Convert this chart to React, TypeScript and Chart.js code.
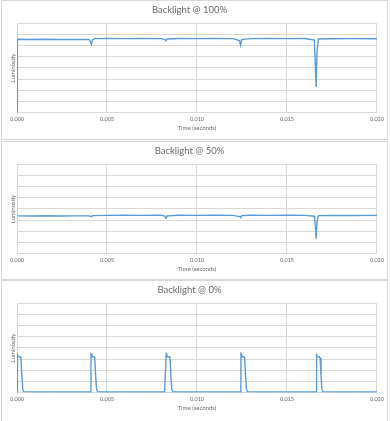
import React, { useEffect, useRef } from "react";
import { Chart, registerables } from "chart.js";
Chart.register(...registerables);

// ---------- data ----------
const panelTitles = ["Backlight @ 100%", "Backlight @ 50%", "Backlight @ 0%"];
const xAxisTitle = "Time (seconds)";
const yAxisTitle = "Luminosity";
const xMin = 0;
const xMax = 0.02;
const xStep = 0.005;
const yMin = 0;
const yMax = 8;
const yStep = 1;

const time100 = [0, 0.00002, 0.0008, 0.0016, 0.0024, 0.0032, 0.004, 0.00408, 0.00413, 0.00418, 0.0043, 0.005, 0.006, 0.007, 0.008, 0.00822, 0.00828, 0.00834, 0.009, 0.01, 0.011, 0.012, 0.01236, 0.01242, 0.01248, 0.013, 0.014, 0.015, 0.016, 0.01652, 0.01658, 0.01662, 0.01667, 0.01675, 0.0175, 0.0185, 0.02];
const lum100 = [0, 6.58, 6.56, 6.58, 6.55, 6.57, 6.56, 6.35, 6.12, 6.5, 6.63, 6.64, 6.63, 6.65, 6.63, 6.55, 6.45, 6.6, 6.64, 6.63, 6.64, 6.63, 6.45, 6.05, 6.55, 6.63, 6.64, 6.63, 6.64, 6.5, 4.0, 2.3, 5.5, 6.6, 6.62, 6.63, 6.62];

const time50 = [0, 0.0008, 0.0016, 0.0024, 0.0032, 0.004, 0.0041, 0.00415, 0.0042, 0.005, 0.006, 0.007, 0.008, 0.00822, 0.00828, 0.00834, 0.009, 0.01, 0.011, 0.012, 0.01238, 0.01243, 0.01248, 0.013, 0.014, 0.015, 0.016, 0.01652, 0.01658, 0.01662, 0.01667, 0.01675, 0.0175, 0.0185, 0.02];
const lum50 = [3.38, 3.37, 3.39, 3.37, 3.38, 3.38, 3.33, 3.3, 3.4, 3.42, 3.43, 3.42, 3.43, 3.35, 3.17, 3.38, 3.43, 3.42, 3.43, 3.42, 3.32, 3.22, 3.4, 3.43, 3.42, 3.43, 3.42, 3.35, 2.4, 1.32, 2.9, 3.4, 3.42, 3.41, 3.42];

const time0 = [
  0, 0.00001, 0.00004, 0.00006, 0.00018, 0.00022, 0.00027, 0.00032, 0.00037,
  0.001, 0.002, 0.003, 0.0041,
  0.00411, 0.00414, 0.00416, 0.00428, 0.00432, 0.00437, 0.00442, 0.00447,
  0.005, 0.006, 0.007, 0.0082,
  0.00829, 0.00832, 0.00834, 0.00846, 0.0085, 0.00855, 0.0086, 0.00865,
  0.0095, 0.0105, 0.0115, 0.01243,
  0.01244, 0.01247, 0.01249, 0.01261, 0.01265, 0.0127, 0.01275, 0.0128,
  0.0135, 0.0145, 0.0155, 0.01662,
  0.01663, 0.01666, 0.01668, 0.0168, 0.01684, 0.01689, 0.01694, 0.01699,
  0.018, 0.019, 0.02,
];
const lum0 = [
  0.05, 3.5, 3.45, 3.2, 3.22, 3.1, 1.5, 0.3, 0.08,
  0.05, 0.06, 0.05, 0.05,
  3.5, 3.45, 3.2, 3.22, 3.1, 1.5, 0.3, 0.08,
  0.05, 0.06, 0.05, 0.05,
  3.5, 3.45, 3.2, 3.22, 3.1, 1.5, 0.3, 0.08,
  0.05, 0.06, 0.05, 0.05,
  3.5, 3.45, 3.2, 3.22, 3.1, 1.5, 0.3, 0.08,
  0.05, 0.06, 0.05, 0.05,
  3.5, 3.45, 3.2, 3.22, 3.1, 1.5, 0.3, 0.08,
  0.05, 0.06, 0.05,
];

// ---------- styling ----------
const TEXT = "#6a6a6a";
const GRID = "#d9d9d9";
const LINE = "#5b9bd5";
const FONT = "Lato";

function Panel(props: { title: string; times: number[]; values: number[]; top: number; height: number }) {
  const { title, times, values, top, height } = props;
  const ref = useRef<HTMLCanvasElement>(null);
  const canvasW = 385;
  const canvasH = height - 2;
  useEffect(() => {
    const plotBottom = 111.5;
    const chart = new Chart(ref.current!, {
      type: "line",
      data: {
        datasets: [
          {
            data: times.map((t, i) => ({ x: t, y: values[i] })),
            borderColor: LINE,
            borderWidth: 1.4,
            pointRadius: 0,
            tension: 0,
            fill: false,
          },
        ],
      },
      options: {
        animation: false,
        responsive: false,
        devicePixelRatio: 1,
        layout: { padding: { left: 0, right: 10, top: 0, bottom: 0 } },
        plugins: {
          legend: { display: false },
          tooltip: { enabled: false },
          title: {
            display: true,
            text: title,
            color: TEXT,
            font: { family: FONT, size: 9.5, weight: "normal" },
            padding: { top: 3, bottom: 8 },
          },
        },
        scales: {
          x: {
            type: "linear",
            min: xMin,
            max: xMax,
            ticks: {
              stepSize: xStep,
              callback: (v: any) => Number(v).toFixed(3),
              color: TEXT,
              font: { family: FONT, size: 5.5 },
              padding: 3,
              maxRotation: 0,
              autoSkip: false,
            },
            grid: { color: GRID, drawTicks: false, lineWidth: 1 },
            border: { color: GRID },
            title: {
              display: true,
              text: xAxisTitle,
              color: TEXT,
              font: { family: FONT, size: 6 },
              padding: { top: 0, bottom: canvasH - 127.5 - 3.6 },
            },
            afterFit: (s: any) => {
              s.height = canvasH - plotBottom;
            },
          },
          y: {
            min: yMin,
            max: yMax,
            ticks: { display: false, stepSize: yStep },
            grid: { color: GRID, drawTicks: false, lineWidth: 1 },
            border: { display: false },
            title: {
              display: true,
              text: yAxisTitle,
              color: TEXT,
              font: { family: FONT, size: 6 },
              padding: { top: 7.2, bottom: 0 },
            },
            afterFit: (s: any) => {
              s.width = 15;
            },
          },
        },
      },
    } as any);
    return () => chart.destroy();
  }, []);
  return (
    <div
      style={{
        position: "absolute",
        left: 1,
        top,
        width: canvasW,
        height: canvasH,
        border: `1px solid ${GRID}`,
        background: "#fff",
      }}
    >
      <canvas ref={ref} width={canvasW} height={canvasH} style={{ display: "block" }} />
    </div>
  );
}

export default function App() {
  return (
    <div style={{ position: "fixed", left: 0, top: 0, width: 390, height: 421, background: "#fff", overflow: "hidden" }}>
      <Panel title={panelTitles[0]} times={time100} values={lum100} top={0} height={140} />
      <Panel title={panelTitles[1]} times={time50} values={lum50} top={141} height={139} />
      <Panel title={panelTitles[2]} times={time0} values={lum0} top={280} height={142} />
    </div>
  );
}
